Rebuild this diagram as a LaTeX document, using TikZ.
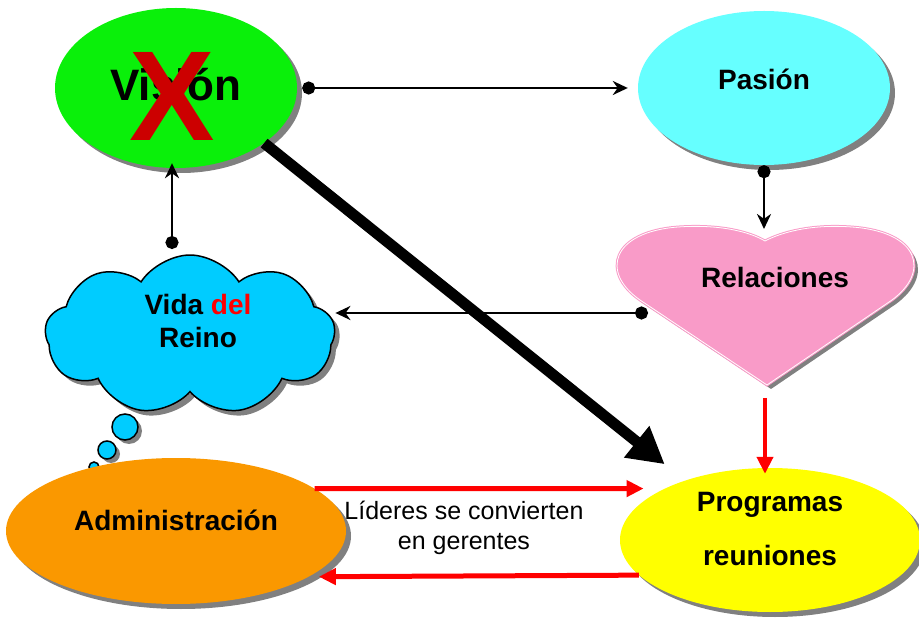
\documentclass[tikz,border=0pt]{standalone}
\usepackage{fontspec}
\setmainfont{Liberation Sans}
\usetikzlibrary{arrows.meta,shapes.geometric,shapes.symbols,shadows}
\definecolor{verde}{RGB}{10,240,10}
\definecolor{celeste}{RGB}{102,255,255}
\definecolor{nubeazul}{RGB}{0,204,255}
\definecolor{rosa}{RGB}{249,155,200}
\definecolor{naranja}{RGB}{250,152,0}
\definecolor{amarillo}{RGB}{255,255,0}
\definecolor{rojo}{RGB}{255,0,0}
\definecolor{rojox}{RGB}{204,0,0}
\definecolor{sombra}{RGB}{128,128,128}
\begin{document}
\begin{tikzpicture}[x=1pt,y=-1pt,
    globo/.style={ellipse,inner sep=0pt,font=\bfseries\fontsize{28}{34}\selectfont,
      text height=20pt,text depth=16pt,
      general shadow={fill=sombra,shadow xshift=5pt,shadow yshift=-5pt}},
    texto/.style={font=\bfseries\fontsize{28}{33}\selectfont,align=center,inner sep=0pt},
    enlace/.style={line width=2.8pt,{Circle[length=13pt]}-{Stealth[length=15pt,width=14pt]}},
    flecha/.style={draw=rojo,line width=5pt,-{Triangle[length=17pt,width=16pt]}}]
  \useasboundingbox (0,0) rectangle (919,620);

  % globos
  \node[globo,fill=verde,minimum width=242pt,minimum height=160pt,
    font=\bfseries\fontsize{44}{50}\selectfont,text height=31pt,text depth=5pt] (vision) at (176,88) {Visión};
  \node[text=rojox,font=\bfseries\fontsize{128}{128}\selectfont,inner sep=0pt] (tachado) at (172,96) {X};
  \node[globo,fill=celeste,minimum width=252pt,minimum height=154pt] (pasion) at (764,88) {Pasión};

  % corazon
  \fill[sombra,shift={(4,4)}] (767,385) -- (640,300) .. controls (600,272) and (612,232) .. (678,227)
    .. controls (720,224) and (750,232) .. (765,241) .. controls (782,232) and (812,224) .. (852,227)
    .. controls (920,232) and (930,272) .. (892,300) -- cycle;
  \draw[fill=rosa,draw=rosa,double=white,double distance=0.8pt,line width=1pt] (767,385) -- (640,300)
    .. controls (600,272) and (612,232) .. (678,227) .. controls (720,224) and (750,232) .. (765,241)
    .. controls (782,232) and (812,224) .. (852,227) .. controls (920,232) and (930,272) .. (892,300) -- cycle;
  \node[texto] (relaciones) at (775,277) {Relaciones};
  \coordinate (rel-arriba) at (764,229);
  \coordinate (rel-izq) at (648,313);
  \coordinate (rel-abajo) at (765,398);

  % nube
  \node[cloud,cloud puffs=9,cloud puff arc=115,aspect=1.8,fill=nubeazul,draw,line width=1.5pt,
    minimum width=290pt,minimum height=160pt,
    general shadow={fill=sombra,shadow xshift=5pt,shadow yshift=-5pt}] (nube) at (190,335) {};
  \node[texto] (vida) at (198,321) {Vida \textcolor{rojo}{del}\\Reino};
  \coordinate (vida-arriba) at (172,249);
  \foreach \x/\y/\r in {125/427/13,107/450/9,94/467/5} {
    \fill[sombra] (\x+4,\y+4) circle [radius=\r];
    \filldraw[fill=nubeazul,line width=1.5pt] (\x,\y) circle [radius=\r];
  }

  \node[globo,fill=naranja,minimum width=340pt,minimum height=146pt,text depth=22pt] (admin) at (176,531) {Administración};
  \node[globo,fill=amarillo,minimum width=300pt,minimum height=144pt,
    font=\bfseries\fontsize{28}{54}\selectfont,align=center,text height=74pt,text depth=24pt] (programas) at (770,540) {Programas\\reuniones};
  \node[font=\fontsize{25}{30}\selectfont,align=center,inner sep=0pt] (lideres) at (464,528) {Líderes se convierten\\en gerentes};

  % enlaces
  \draw[enlace,shorten >=10pt] ([xshift=5pt]vision.east) -- (pasion.west);
  \draw[enlace] (pasion.south) -- (rel-arriba);
  \draw[enlace] (rel-izq) -- (rel-izq -| nube.east);
  \draw[enlace,shorten >=-5pt] (vida-arriba) -- (vision.south -| vida-arriba);
  \draw[line width=11pt,-{Triangle[length=36pt,width=38pt]},shorten >=26pt] (vision.-32) -- (programas.145);
  \draw[flecha,line width=4pt,shorten >=-6pt] (rel-abajo) -- (rel-abajo |- programas.north);
  \draw[flecha,shorten >=21pt] (admin.17) -- (programas.154);
  \draw[flecha,shorten >=10pt] (programas.195.5) -- (admin.-19);
\end{tikzpicture}
\end{document}
